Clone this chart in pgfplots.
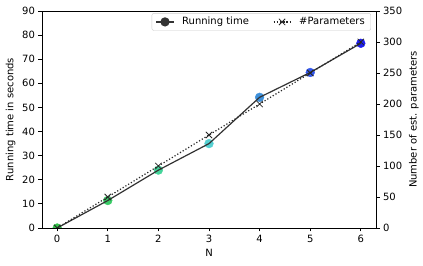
\documentclass[border=0pt]{standalone}
\usepackage{pgfplots}
\pgfplotsset{compat=1.18}
\usepackage{fontspec}
\setmainfont{DejaVu Sans}
\definecolor{c0}{HTML}{33C24A}
\definecolor{c1}{HTML}{3ACB66}
\definecolor{c2}{HTML}{45D49A}
\definecolor{c3}{HTML}{55D0D2}
\definecolor{c4}{HTML}{3E90DA}
\definecolor{c5}{HTML}{3358EE}
\definecolor{c6}{HTML}{1E1EEE}
\pgfplotsset{every axis/.append style={
  font=\fontsize{10}{12}\selectfont,
  /pgf/number format/assume math mode=true,
  scale only axis, width=334pt, height=217pt,
  xmin=-0.3, xmax=6.3,
  tick align=outside, major tick length=3.5pt,
  tick style={black, line width=0.8pt},
  axis line style={line width=0.8pt},
  clip marker paths=true,
}}
\begin{document}
\begin{tikzpicture}
\begin{axis}[
  name=ax,
  xtick pos=bottom, ytick pos=left,
  ymin=0, ymax=90, ytick={0,10,...,90},
  xtick={0,1,...,6},
  xlabel={N}, ylabel={Running time in seconds},
]
\addplot[scatter, only marks, mark=*, mark size=4.4pt, point meta=explicit symbolic,
  scatter/classes={
    a={mark=*,draw=c0,fill=c0},
    b={mark=*,draw=c1,fill=c1},
    c={mark=*,draw=c2,fill=c2},
    d={mark=*,draw=c3,fill=c3},
    e={mark=*,draw=c4,fill=c4},
    f={mark=*,draw=c5,fill=c5},
    g={mark=*,draw=c6,fill=c6}}]
  coordinates {(0,0) [a] (1,11.4) [b] (2,24.0) [c] (3,35.0) [d] (4,54.2) [e] (5,64.5) [f] (6,76.6) [g]};
\addplot[color=black!80, line width=1.2pt] coordinates {(0,0) (1,11.4) (2,24.0) (3,35.0) (4,54.2) (5,64.5) (6,76.6)};
\end{axis}
\begin{axis}[
  axis y line*=right, axis x line=none,
  ymin=0, ymax=350, ytick={0,50,...,350},
  ylabel={Number of est. parameters},
  legend style={at={(0.985,0.99)}, anchor=north east, legend columns=2,
    draw=black!20, rounded corners=2pt, font=\fontsize{10}{12}\selectfont,
    inner xsep=4pt, inner ysep=2pt,
    /tikz/every odd column/.append style={column sep=6pt},
    /tikz/every even column/.append style={column sep=22pt}},
  legend cell align=left,
]
\addlegendimage{color=black!80, line width=1.2pt, mark=*, mark size=4pt}
\addlegendentry{Running time}
\addplot[color=black!85, dotted, line width=1.2pt, mark=x, mark size=4.5pt, mark options={solid, line width=0.8pt}]
  coordinates {(0,0) (1,50) (2,100) (3,150) (4,200) (5,250) (6,300)};
\addlegendentry{\#Parameters}
\end{axis}
\path (ax.south west) ++(-42pt,-38pt) coordinate (a);
\path (ax.north east) ++(47pt,11pt) coordinate (b);
\pgfresetboundingbox
\path[use as bounding box] (a) rectangle (b);
\end{tikzpicture}
\end{document}
